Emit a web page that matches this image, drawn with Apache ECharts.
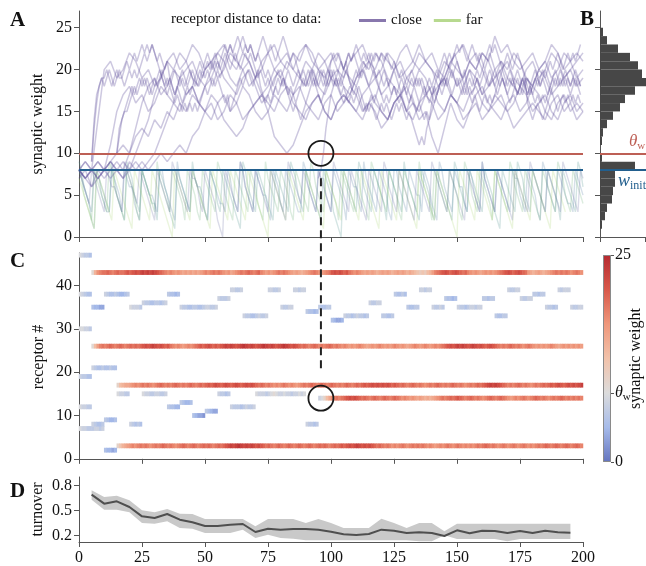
<!DOCTYPE html>
<html><head><meta charset="utf-8">
<script src="https://cdn.jsdelivr.net/npm/echarts@6/dist/echarts.min.js"></script>
<style>html,body{margin:0;padding:0;background:#fff}#c{width:646px;height:566px}</style>
</head><body><div id="c"></div>
<script>
// ---------------- data ----------------
const THETA = 10, W_INIT = 8, THETA_CB = 25 / 3;
const CIRCLE_T = 96, CIRCLE_ROW = 14;

// panel C: persistent receptors (rows) with their start time, 1 value per time unit
const bandRows = [43, 26, 17, 3, 14];
const bandStarts = [5, 5, 15, 15, 95];
const band43 = [9,14,17,18,19,19,20,19,18,19,20,19,19,20,21,20,21,22,21,22,23,22,23,22,23,22,21,20,19,18,17,18,17,16,17,16,15,16,15,16,15,16,15,16,17,18,17,18,19,18,19,18,17,16,17,15,16,17,18,19,18,19,20,19,18,19,20,18,17,16,17,16,17,18,19,18,19,18,17,16,15,16,15,14,15,16,17,18,19,18,17,16,17,18,19,21,22,21,22,21,20,21,19,18,17,18,17,16,15,16,15,16,15,14,15,16,15,16,15,14,15,16,15,16,15,14,15,14,13,12,11,12,11,13,14,16,18,19,20,21,22,21,20,21,22,21,20,19,20,18,17,16,17,16,15,16,17,16,17,16,17,18,19,20,21,22,21,20,21,22,21,20,19,16,15,14,15,16,15,14,15,16,17,18,19,18,19,18,19,18,17,18,19,18,17];
const band26 = [9,13,16,18,19,18,19,20,19,18,19,20,19,18,19,20,19,20,19,20,21,22,21,22,23,22,21,22,21,20,21,19,18,17,18,17,16,17,18,17,18,19,20,21,20,21,22,21,20,21,20,21,22,23,22,23,22,21,22,23,24,23,22,23,22,21,22,23,24,23,22,23,22,21,22,23,24,23,22,21,22,21,20,19,20,19,18,19,20,19,18,19,18,19,20,19,18,19,18,17,18,17,16,17,16,17,18,17,16,15,16,17,16,17,18,17,16,17,16,17,18,17,16,17,16,15,16,17,18,17,16,17,18,17,16,17,18,17,18,19,20,21,22,21,22,23,22,23,22,21,22,23,22,21,22,21,20,21,22,21,20,19,18,19,18,19,20,19,18,19,18,17,18,19,18,17,16,17,16,17,16,17,18,17,16,15,16,17,16,17,16,17,16,17,16];
const band17 = [10,13,14,15,15,16,17,18,17,18,19,18,19,18,17,18,19,20,19,18,19,18,19,20,19,18,19,18,19,20,19,18,19,20,19,20,21,20,21,22,21,20,21,22,21,20,21,22,21,20,21,22,21,22,21,20,19,20,19,18,19,18,17,18,17,18,19,18,17,18,17,16,17,18,19,18,19,20,19,18,19,20,19,18,19,20,19,18,19,18,19,20,19,18,19,20,19,20,21,20,21,22,21,22,21,22,21,22,21,20,21,20,19,20,19,18,19,20,19,18,19,18,17,18,19,18,19,20,19,18,19,18,19,20,19,18,19,18,17,18,19,18,19,20,19,20,21,22,23,22,23,22,21,20,19,18,19,18,19,20,19,18,19,18,17,18,19,18,19,20,19,20,21,20,21,22,21,20,21,22,21,22,21,22,23];
const band3 = [10,12,14,15,16,17,18,17,18,19,18,19,18,17,18,19,18,19,20,19,18,19,18,17,18,19,20,19,18,19,20,19,18,19,20,19,20,19,18,19,20,19,20,21,22,23,22,23,24,23,22,23,22,23,22,21,22,21,20,19,20,19,18,19,20,19,18,19,20,19,18,19,20,19,18,19,20,19,18,19,20,19,20,19,18,19,20,19,20,21,20,21,22,21,22,23,22,21,22,21,22,21,20,19,20,19,18,19,18,17,18,17,18,19,18,17,18,19,18,19,18,19,18,17,18,17,16,17,18,17,18,19,18,17,18,19,18,17,18,17,18,17,18,19,18,19,20,19,18,19,18,17,18,19,18,17,18,19,18,17,18,19,18,17,18,17,18,19,18,19,20,19,18,19,20,19,18,19,20,19,18,19,20,19,18];
const band14 = [7,8,10,13,15,17,18,19,18,19,20,21,22,21,22,21,20,19,20,19,18,19,20,19,18,19,20,19,18,19,20,19,18,17,18,17,16,17,16,15,16,15,14,15,14,15,16,17,18,19,18,19,20,19,20,21,20,19,18,19,20,19,18,19,18,17,18,19,20,19,18,19,20,19,18,17,16,17,18,17,18,19,18,17,18,19,20,19,18,19,18,17,18,19,18,19,20,19,18,19,18,19,18,19,18];

// panel C: short-lived receptors (row, start time, values)
const blueRows = [47,38,30,19,12,7,35,21,8,38,9,2,15,35,8,36,15,38,12,35,13,10,11,37,15,39,12,33,15,39,35,39,34,8,35,32,33,36,33,38,35,39,35,37,35,37,33,39,37,38,35,39,35];
const blueStarts = [0,0,0,0,0,0,5,5,5,10,10,10,15,20,20,25,25,35,35,40,40,45,50,55,55,60,60,65,70,75,80,85,90,90,95,100,105,115,120,125,130,135,140,145,150,160,165,170,175,180,185,190,195];
const blueVals = [
 [8,7,6,6,5],[8,7,6,5,5],[8,8,7,7,6],[7,6,6,5,5],[8,7,7,6,6],[8,7,7,6,6,6,7,7,6,7],
 [5,4,4,3,3],[7,6,5,5,6,5,5,6,5,5],[7,6,5,5,6],
 [7,6,5,5,6,5,4,4,5,6],[6,5,4,4,5],[5,4,4,3,4],
 [8,7,7,6,6],[8,7,7,7,6],[7,6,5,6,5],
 [7,6,6,5,5,6,6,5,6,7],[8,7,7,6,6,7,7,6,6,7],
 [6,5,5,4,5],[6,5,5,4,4],
 [7,6,6,5,5,6,6,5,5,6,7,7,6,6,7],[6,5,4,4,5],[5,4,3,3,2],[6,5,4,3,3],
 [7,6,6,6,7],[7,6,6,5,6],[7,7,6,6,7],[7,6,6,6,5,6,7,6,6,7],[7,6,6,5,5,6,7,6,6,7],
 [8,7,7,7,6,7,8,9,8,7,7,8,7,7,6,7,7,8,7,8],
 [7,7,6,6,7],[7,6,6,7,7],[7,7,6,7,7],[6,5,5,4,5],[7,6,6,5,6],
 [6,5,5,6,6],[5,4,3,3,4],[7,6,6,5,6,7,6,6,5,6],[7,6,6,7,7],[6,6,5,5,6],[6,5,5,6,5],
 [6,5,5,6,6],[7,7,6,7,7],[7,6,6,7,6],[6,5,5,4,5],[7,6,6,5,6,7,7,6,7,7],[6,6,5,6,6],
 [6,5,5,6,6],[7,6,6,7,7],[7,6,6,7,7],[6,6,5,6,6],[7,6,6,5,6],[7,6,7,7,7],[7,6,6,7,7]
];

// panel A: further close-receptor trajectories (one value every 2.5 time units)
const purpleStep = 2.5;
const purple1 = [8,7,8,14,20,21,19,20,22,21,19,20,18,19,21,20,22,21,19,18,20,21,19,20,22,21,20,18,19,21,22,20,19,21,20,22,23,21,20,19,21,22,20,19,18,20,21,19,20,22,21,19,20,21,23,21,20,19,21,20,18,19,21,20,22,21,19,20,21,19,18,20,21,19,20,22,21,19,20,21,22];
const purple2 = [8,9,8,7,8,11,15,17,18,16,17,15,16,18,17,16,15,17,18,16,15,14,16,17,15,16,18,17,15,14,15,17,16,15,17,18,16,15,14,16,17,15,16,18,17,15,16,17,15,14,16,17,18,16,15,17,16,14,15,17,16,15,17,18,16,15,16,17,15,16,18,17,15,16,17,15,14,16,17,15,16];
const purple3 = [7,8,6,8,7,8,9,8,10,13,16,18,19,17,18,20,19,17,18,16,18,19,21,19,18,17,19,20,18,16,17,19,20,18,17,19,21,20,18,17,19,18,16,17,19,20,18,19,17,18,20,21,19,18,20,19,17,18,19,17,16,18,20,19,17,18,20,21,19,18,17,19,18,20,19,17,18,19,20,18,19];
const purple4 = [8,7,8,9,8,9,10,11,10,12,13,12,14,13,15,14,16,15,17,16,15,17,16,14,13,12,13,15,16,17,16,15,17,18,16,15,14,16,17,15,14,16,17,16,15,14,16,15,13,14,16,17,15,16,14,15,12,10,13,16,14,13,15,16,14,15,17,16,15,13,14,15,16,15,14,16,17,15,16,14,15];
const purple5 = [8,7,6,7,8,9,8,7,8,9,8,9,10,12,14,16,19,20,21,19,18,20,22,21,19,18,20,21,19,17,18,20,21,22,20,19,18,20,22,21,19,20,18,17,19,21,20,22,21,19,18,17,19,20,22,21,20,18,19,21,20,19,21,22,20,18,19,21,20,22,21,19,18,20,21,19,20,22,21,19,20];
const purple6 = [8,9,8,7,8,9,8,7,9,8,9,8,9,10,9,10,11,10,12,13,15,16,14,15,17,16,14,15,16,17,15,12,11,10,11,13,15,16,17,15,14,16,17,16,15,17,18,16,15,14,16,17,15,14,16,17,18,16,15,17,16,14,15,17,18,16,15,14,16,17,15,16,18,17,15,14,16,17,15,16,15];
const purple7 = [8,7,8,9,8,7,8,9,8,10,12,14,17,19,21,22,20,21,23,22,20,21,22,23,21,20,22,21,19,20,22,23,21,20,22,21,23,22,20,21,22,20,19,21,22,23,21,20,22,21,20,22,23,21,20,21,22,20,19,21,22,23,21,20,22,21,24,22,23,21,20,21,22,20,21,23,22,20,21,22,21];

// panel A: far receptors, turned over repeatedly (one value per time unit, t = 0..200)
const saw1 = [8,7,6,5,4,3,8,7,7,5,4,3,3,9,7,6,5,3,8,7,6,6,4,3,2,8,7,6,5,5,4,3,8,8,6,5,4,3,2,9,7,6,5,4,3,8,7,6,6,5,3,2,8,7,6,5,4,4,3,8,7,5,4,3,9,8,6,5,4,3,8,7,6,5,5,3,2,8,7,6,4,3,8,7,6,5,4,3,3,9,8,6,5,4,3,8,7,7,5,4,3,8,7,6,5,4,2,8,7,6,6,4,3,9,7,6,5,4,3,8,7,6,5,3,2,8,8,6,5,4,3,8,7,6,5,5,3,8,7,6,4,3,2,9,8,6,5,4,3,8,7,6,6,4,3,8,7,5,4,3,9,7,6,5,4,3,8,7,6,5,4,3,8,7,7,5,4,3,8,7,6,5,3,2,9,8,6,5,4,3,8,7,6,5,4,4,3,8,7,6,5];
const saw2 = [9,8,6,5,4,2,1,8,7,6,5,4,3,8,7,5,4,3,2,9,8,7,5,4,3,8,7,6,5,4,4,2,8,7,6,5,3,2,1,8,7,6,5,4,3,9,7,6,5,4,3,2,8,7,6,4,3,8,7,6,5,4,3,2,1,9,8,6,5,4,3,8,7,6,5,4,3,2,8,7,6,5,4,3,9,8,7,5,4,3,8,7,6,5,4,3,2,8,7,6,5,3,2,1,0,8,7,6,5,4,3,9,8,6,5,4,3,8,7,6,5,4,2,8,7,6,5,4,3,9,7,6,5,4,3,2,8,7,6,5,3,2,8,7,6,5,4,3,2,9,8,6,5,4,3,8,7,6,5,4,3,8,7,6,5,3,2,1,8,7,6,5,4,3,9,8,7,5,4,3,8,7,6,5,4,3,8,7,6,5,4,2,8,7,6,5,4,3,9,8,6];
const saw3 = [8,7,5,4,3,2,8,7,6,5,4,3,9,8,6,5,4,3,2,8,7,6,5,3,2,8,7,6,5,4,3,9,7,6,5,4,3,8,7,6,5,4,2,8,7,6,5,3,2,8,7,6,5,4,3,9,8,7,5,4,3,2,8,7,6,5,4,3,8,7,6,4,3,2,9,7,6,5,4,3,8,7,6,5,3,2,8,7,6,5,4,3,9,8,6,5,4,3,8,7,6,5,4,2,8,7,6,5,4,3,8,7,5,4,3,2,9,8,7,6,5,4,3,8,7,6,5,3,2,8,7,6,5,4,3,9,7,6,5,4,2,8,7,6,5,4,3,8,7,6,5,3,2,9,8,7,5,4,3,8,7,6,5,4,2,8,7,6,5,4,3,9,8,6,5,4,3,8,7,6,5,4,3,2,8,7,6,5,4,3,9,8,7,5,4,3,8,7,6,5,4];
const saw4 = [7,6,5,4,3,2,1,8,7,6,5,4,3,2,8,7,6,5,4,3,2,1,8,7,6,5,4,3,2,8,7,6,5,4,3,2,1,0,8,7,6,5,4,3,2,8,7,6,5,4,3,2,1,8,7,6,5,4,3,2,8,7,6,5,4,3,2,8,7,6,5,4,3,2,1,0,8,7,6,5,4,3,2,8,7,6,5,4,3,2,8,7,6,5,4,3,2,1,8,7,6,5,4,3,2,8,7,6,5,4,3,2,8,7,6,5,4,3,2,1,8,7,6,5,4,3,2,8,7,6,5,4,3,2,1,8,7,6,5,4,3,2,8,7,6,5,4,3,2,1,0,8,7,6,5,4,3,2,8,7,6,5,4,3,2,8,7,6,5,4,3,2,1,8,7,6,5,4,3,2,8,7,6,5,4,3,2,1,8,7,6,5,4,3];
const saw5 = [8,7,6,5,4,8,7,6,5,4,3,8,7,6,6,5,4,3,9,8,7,6,5,4,8,7,6,5,4,3,2,8,7,6,5,4,3,9,8,7,6,5,4,3,8,7,7,6,4,3,8,7,6,5,4,2,1,0,8,7,6,5,4,3,9,8,6,5,4,3,8,7,6,5,4,3,8,7,6,5,4,3,2,9,8,7,6,5,4,8,7,6,5,4,3,8,7,6,5,4,3,9,8,7,6,5,4,3,8,7,6,5,4,3,2,8,7,6,5,4,3,9,8,6,5,4,3,8,7,6,5,4,3,2,8,7,6,5,4,3,9,8,7,6,5,4,3,8,7,6,5,4,3,2,8,7,6,5,4,3,9,7,6,5,4,3,8,7,6,5,4,3,2,8,7,6,5,4,3,9,8,7,6,5,4,3,8,7,6,5,4,3,9,8,7,6,5,4,3,8,7];

// panel B: histogram of weights (bins of width 1, from 0 to 27)
const histCounts = [0,2,5,7,12,13,15,15,35,2,0,2,3,7,13,20,25,35,48,42,38,30,18,7,3,0,0];

// panel D: turnover
const turnT = [5,10,15,20,25,30,35,40,45,50,55,60,65,70,75,80,85,90,95,100,105,110,115,120,125,130,135,140,145,150,155,160,165,170,175,180,185,190,195];
const turnMean = [0.688,0.58,0.608,0.54,0.428,0.408,0.456,0.388,0.356,0.312,0.312,0.328,0.336,0.24,0.28,0.268,0.276,0.276,0.268,0.244,0.212,0.204,0.216,0.268,0.256,0.228,0.236,0.228,0.192,0.26,0.224,0.256,0.252,0.228,0.252,0.228,0.256,0.236,0.232];
const turnUpper = [0.74,0.66,0.676,0.62,0.5,0.476,0.516,0.46,0.456,0.396,0.396,0.396,0.396,0.308,0.396,0.396,0.396,0.348,0.396,0.348,0.288,0.288,0.288,0.4,0.348,0.288,0.348,0.348,0.248,0.34,0.34,0.34,0.34,0.34,0.34,0.34,0.34,0.34,0.34];
const turnLower = [0.628,0.508,0.508,0.476,0.348,0.34,0.368,0.288,0.28,0.228,0.228,0.228,0.268,0.168,0.208,0.168,0.16,0.14,0.14,0.14,0.14,0.14,0.14,0.14,0.14,0.14,0.13,0.13,0.2,0.156,0.156,0.156,0.156,0.128,0.156,0.156,0.156,0.156,0.156];

const xTicksLabels = [0,25,50,75,100,125,150,175,200];
const weightTicks = [0,5,10,15,20,25];
const receptorTicks = [0,10,20,30,40];
const turnoverTicks = [0.2,0.5,0.8];

// ---------------- styles ----------------
const FONT = 'Liberation Serif';
const RED = '#bd5f55', BLUE = '#225f8e';
const PURPLE = '#5a4898';
const sawColors = ['#46709c', '#3f8a86', '#5ea76c', '#a6d06a', '#5a5f9c'];
const palette = ['#6474bf', '#a6bbea', '#dcdcdc', '#f2c2aa', '#ef977b', '#d8584a', '#b52a30'];

const axLine = {show: true, lineStyle: {color: '#555', width: 1}};
const axTick = {show: true, length: 5, lineStyle: {color: '#555', width: 1}};
const lbl = {fontFamily: FONT, fontSize: 16, color: '#111'};

const tCats = Array.from({length: 200}, (_, i) => String(i));
const rowCats = Array.from({length: 48}, (_, i) => String(i));
const binCats = histCounts.map((_, i) => String(i));

// heatmap cells
const bandArrays = [band43, band26, band17, band3, band14];
const heatData = [];
bandArrays.forEach((arr, k) => arr.forEach((v, i) => heatData.push([bandStarts[k] + i, bandRows[k], v])));
blueVals.forEach((arr, k) => arr.forEach((v, i) => heatData.push([blueStarts[k] + i, blueRows[k], v])));

const series = [];
const lineBase = (data, color, name, op, w) => ({
  type: 'line', name: name, xAxisIndex: 0, yAxisIndex: 0, data: data,
  showSymbol: false, symbol: 'none', silent: true, z: 2,
  lineStyle: {width: w, color: color, opacity: op}, itemStyle: {color: color}
});
[saw1, saw2, saw3, saw4, saw5].forEach((arr, k) => {
  series.push(lineBase(arr.map((v, i) => [i, v]), sawColors[k], k === 3 ? 'far' : 'saw' + k, 0.22, 1.4));
});
[purple1, purple2, purple3, purple4, purple5, purple6, purple7].forEach(arr => {
  series.push(lineBase(arr.map((v, i) => [i * purpleStep, v]), PURPLE, 'close', 0.3, 1.5));
});
bandArrays.forEach((arr, k) => {
  series.push(lineBase(arr.map((v, i) => [bandStarts[k] + i, v]), PURPLE, 'close', 0.3, 1.5));
});
const thrMark = {
  silent: true, symbol: 'none', label: {show: false},
  data: [
    {yAxis: THETA, lineStyle: {color: RED, width: 2, type: 'solid'}},
    {yAxis: W_INIT, lineStyle: {color: BLUE, width: 2, type: 'solid'}}
  ]
};
series.push({type: 'line', name: 'thrA', xAxisIndex: 0, yAxisIndex: 0, data: [[0, W_INIT]], showSymbol: false, symbol: 'none', z: 5, markLine: thrMark});
// histogram (B)
series.push({type: 'bar', name: 'hist', xAxisIndex: 1, yAxisIndex: 2, data: histCounts, barWidth: '100%', silent: true, itemStyle: {color: '#474747'}});
series.push({type: 'line', name: 'thrB', xAxisIndex: 1, yAxisIndex: 1, data: [[0, W_INIT]], showSymbol: false, symbol: 'none', z: 5, markLine: thrMark});
// heatmap (C)
const heatIndex = series.length;
series.push({type: 'heatmap', name: 'heat', xAxisIndex: 3, yAxisIndex: 4, data: heatData, silent: true, itemStyle: {borderWidth: 0}, progressive: 0});
// colorbar
series.push({
  type: 'bar', name: 'cbar', xAxisIndex: 5, yAxisIndex: 6, data: [25], barWidth: '100%', silent: true,
  itemStyle: {
    color: {type: 'linear', x: 0, y: 1, x2: 0, y2: 0, colorStops: palette.map((c, i) => ({offset: i / (palette.length - 1), color: c}))},
    borderColor: '#8a8a8a', borderWidth: 1
  }
});
// turnover (D)
series.push({
  type: 'custom', name: 'band', xAxisIndex: 4, yAxisIndex: 5, data: [[turnT[0], turnMean[0]]], silent: true, z: 1,
  renderItem: function (params, api) {
    if (params.dataIndex !== 0) return null;
    const up = turnT.map((t, i) => api.coord([t, turnUpper[i]]));
    const lo = turnT.map((t, i) => api.coord([t, turnLower[i]])).reverse();
    return {type: 'polygon', shape: {points: up.concat(lo)}, style: {fill: '#c9c9c9'}};
  }
});
series.push({
  type: 'line', name: 'turn', xAxisIndex: 4, yAxisIndex: 5, data: turnT.map((t, i) => [t, turnMean[i]]),
  showSymbol: false, symbol: 'none', silent: true, z: 3, lineStyle: {color: '#4f4f4f', width: 2}
});

const gridBase = {containLabel: false, outerBoundsMode: 'none'};
const option = {
  animation: false,
  backgroundColor: '#fff',
  textStyle: {fontFamily: FONT},
  title: {
    text: 'receptor distance to data:', left: 166, top: 7,
    textStyle: {fontFamily: FONT, fontSize: 15, fontWeight: 'normal', color: '#111'}
  },
  legend: {
    left: 354, top: 8, icon: 'rect', itemWidth: 27, itemHeight: 3, itemGap: 12, selectedMode: false,
    textStyle: {fontFamily: FONT, fontSize: 15, color: '#111'},
    data: [
      {name: 'close', itemStyle: {color: '#8877ad', opacity: 1}},
      {name: 'far', itemStyle: {color: '#b7d98f', opacity: 1}}
    ]
  },
  grid: [
    Object.assign({left: 79, top: 11, width: 504, height: 226}, gridBase),
    Object.assign({left: 600, top: 11, width: 50, height: 226}, gridBase),
    Object.assign({left: 79, top: 253, width: 504, height: 208}, gridBase),
    Object.assign({left: 79, top: 477, width: 504, height: 65}, gridBase),
    Object.assign({left: 603, top: 255, width: 8, height: 207}, gridBase)
  ],
  xAxis: [
    {gridIndex: 0, type: 'value', min: 0, max: 200, interval: 25, axisLine: axLine, axisTick: axTick, axisLabel: {show: false}, splitLine: {show: false}},
    {gridIndex: 1, type: 'value', min: 0, max: 50, interval: 45, axisLine: axLine, axisTick: axTick, axisLabel: {show: false}, splitLine: {show: false}},
    {gridIndex: 2, type: 'value', min: 0, max: 200, interval: 25, axisLine: axLine, axisTick: axTick, axisLabel: {show: false}, splitLine: {show: false}},
    {gridIndex: 2, type: 'category', data: tCats, show: false},
    {gridIndex: 3, type: 'value', min: 0, max: 200, interval: 25, axisLine: axLine, axisTick: axTick, splitLine: {show: false},
      axisLabel: Object.assign({margin: 8, customValues: xTicksLabels}, lbl)},
    {gridIndex: 4, type: 'category', data: ['cb'], show: false}
  ],
  yAxis: [
    {gridIndex: 0, type: 'value', min: 0, max: 27, interval: 5, axisLine: axLine, splitLine: {show: false},
      axisTick: Object.assign({customValues: weightTicks}, axTick),
      axisLabel: Object.assign({margin: 7, customValues: weightTicks}, lbl),
      name: 'synaptic weight', nameLocation: 'middle', nameRotate: 90, nameGap: 33, nameTextStyle: lbl, nameMoveOverlap: false},
    {gridIndex: 1, type: 'value', min: 0, max: 27, interval: 5, axisLine: axLine, axisLabel: {show: false}, splitLine: {show: false},
      axisTick: Object.assign({customValues: weightTicks}, axTick)},
    {gridIndex: 1, type: 'category', data: binCats, show: false},
    {gridIndex: 2, type: 'value', min: -0.5, max: 47.5, axisLine: axLine, splitLine: {show: false},
      axisTick: Object.assign({customValues: receptorTicks}, axTick),
      axisLabel: Object.assign({margin: 7, customValues: receptorTicks}, lbl),
      name: 'receptor #', nameLocation: 'middle', nameRotate: 90, nameGap: 32, nameTextStyle: lbl, nameMoveOverlap: false},
    {gridIndex: 2, type: 'category', data: rowCats, show: false},
    {gridIndex: 3, type: 'value', min: 0.12, max: 0.9, axisLine: axLine, splitLine: {show: false},
      axisTick: Object.assign({customValues: turnoverTicks}, axTick),
      axisLabel: Object.assign({margin: 7, customValues: turnoverTicks, formatter: v => v.toFixed(1)}, lbl),
      name: 'turnover', nameLocation: 'middle', nameRotate: 90, nameGap: 33, nameTextStyle: lbl, nameMoveOverlap: false},
    {gridIndex: 4, type: 'value', min: 0, max: 25, position: 'right', axisLine: {show: false}, splitLine: {show: false},
      axisTick: {show: true, length: 3, inside: false, customValues: [0, THETA_CB, 25], lineStyle: {color: '#555'}},
      axisLabel: Object.assign({margin: 4, customValues: [0, THETA_CB, 25],
        formatter: v => (v === 0 ? '0' : v === 25 ? '25' : '{t|θ}{s|w}'),
        rich: {t: {fontFamily: FONT, fontSize: 16, fontStyle: 'italic', color: '#111'},
               s: {fontFamily: FONT, fontSize: 11, color: '#111', padding: [9, 0, 0, 0]}}}, lbl),
      name: 'synaptic weight', nameLocation: 'middle', nameRotate: 90, nameGap: 17, nameTextStyle: lbl, nameMoveOverlap: false}
  ],
  visualMap: {type: 'continuous', show: false, min: 0, max: 25, dimension: 2, seriesIndex: heatIndex, inRange: {color: palette}},
  series: series
};

const chart = echarts.init(document.getElementById('c'), null, {renderer: 'canvas', width: 646, height: 566});
chart.setOption(option);

// annotations positioned through the axes
const pA = chart.convertToPixel({xAxisIndex: 0, yAxisIndex: 0}, [CIRCLE_T, THETA]);
const pC = chart.convertToPixel({xAxisIndex: 2, yAxisIndex: 3}, [CIRCLE_T, CIRCLE_ROW]);
const pTh = chart.convertToPixel({xAxisIndex: 1, yAxisIndex: 1}, [29, THETA]);
const pWi = chart.convertToPixel({xAxisIndex: 1, yAxisIndex: 1}, [18, W_INIT]);
const R = 12.5;
const letter = (t, x, y) => ({type: 'text', x: x, y: y, z: 100, style: {text: t, fontFamily: FONT, fontSize: 21, fontWeight: 'bold', fill: '#111', verticalAlign: 'middle'}});
chart.setOption({
  graphic: [
    {type: 'circle', z: 100, shape: {cx: pA[0], cy: pA[1], r: R}, style: {fill: 'none', stroke: '#1a1a1a', lineWidth: 1.8}},
    {type: 'circle', z: 100, shape: {cx: pC[0], cy: pC[1], r: R}, style: {fill: 'none', stroke: '#1a1a1a', lineWidth: 1.8}},
    {type: 'line', z: 100, shape: {x1: pA[0], y1: pA[1] + 2 * R, x2: pC[0], y2: pC[1] - 2 * R}, style: {stroke: '#222', lineWidth: 2, lineDash: [8, 5]}},
    {type: 'text', z: 100, x: pTh[0], y: pTh[1] - 2, style: {text: '{t|θ}{s|w}', verticalAlign: 'bottom',
      rich: {t: {fontFamily: FONT, fontSize: 17, fontStyle: 'italic', fill: RED}, s: {fontFamily: FONT, fontSize: 11, fill: RED, padding: [9, 0, 0, 0]}}}},
    {type: 'text', z: 100, x: pWi[0], y: pWi[1] + 1, style: {text: '{t|w}{s|init}', verticalAlign: 'top',
      rich: {t: {fontFamily: FONT, fontSize: 18, fontStyle: 'italic', fill: BLUE}, s: {fontFamily: FONT, fontSize: 12, fill: BLUE, padding: [9, 0, 0, 0]}}}},
    letter('A', 10, 21),
    letter('B', 580, 20),
    letter('C', 10, 262),
    letter('D', 10, 492)
  ]
});
</script>
</body></html>
